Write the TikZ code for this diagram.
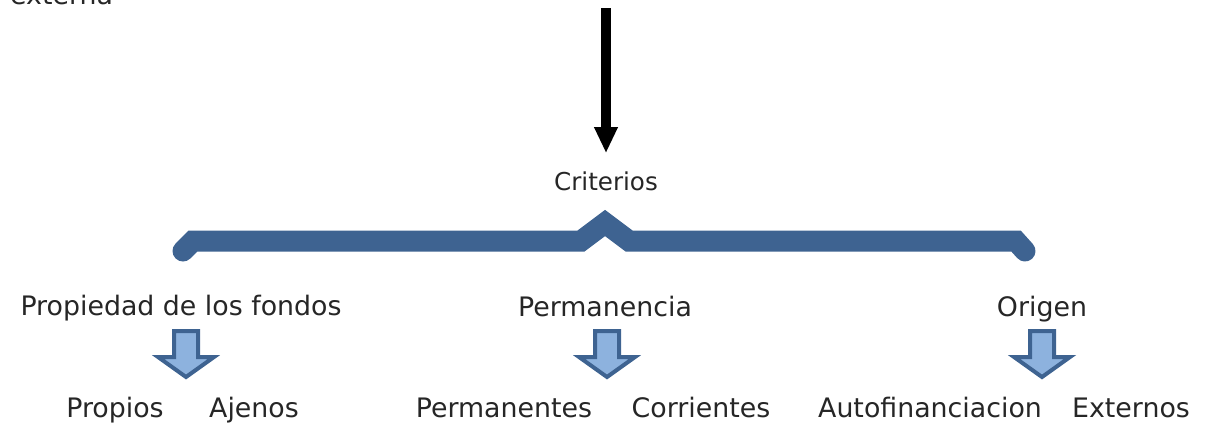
\documentclass[tikz,border=0pt]{standalone}
\usepackage{fontspec}
\setmainfont{DejaVu Sans}
\usetikzlibrary{arrows.meta,positioning,calc}
\definecolor{brc}{RGB}{62,99,145}
\definecolor{brclight}{RGB}{141,178,222}
\tikzset{
  lbl/.style={anchor=base, inner sep=0pt, text=black!85, font=\fontsize{26.8}{32}\selectfont},
  blockdown/.pic={\draw[line width=4pt, brc, fill=brclight, line join=miter]
    (-12,2) -- (12,2) -- (12,28) -- (28,28) -- (0,48) -- (-28,28) -- (-12,28) -- cycle;}
}
\begin{document}
\begin{tikzpicture}[x=1pt, y=-1pt]
\useasboundingbox (0,0) rectangle (1211,426);
\clip (0,0) rectangle (1211,426);
\node[lbl, anchor=base west] (ext) at (10,4) {externa};
\coordinate (arrtop) at (606,8);
\node[lbl, font=\fontsize{24.6}{30}\selectfont] (crit) at (606,190) {Criterios};
\draw[line width=10pt, -{Triangle[length=26pt, width=22pt]}, shorten >=18pt]
  (arrtop) -- (crit.north);
\draw[brc, line width=21pt, line cap=round, line join=miter]
  (183,251) -- (193,241) -- (581,241) -- (605,223) -- (629,241)
  -- (1016,241) -- (1025,251);
\node[lbl] (prop) at (181,315) {Propiedad de los fondos};
\node[lbl] (perm) at (605,316) {Permanencia};
\node[lbl] (orig) at (1042,316) {Origen};
\pic at (186,329) {blockdown};
\pic at (607,329) {blockdown};
\pic at (1042,329) {blockdown};
\node[lbl] (propios) at (115,417) {Propios};
\node[lbl] (ajenos) at (254,417) {Ajenos};
\node[lbl] (permtes) at (504,417) {Permanentes};
\node[lbl] (corr) at (701,417) {Corrientes};
\node[lbl] (auto) at (930,417) {Autofinanciacion};
\node[lbl] (extern) at (1131,417) {Externos};
\end{tikzpicture}
\end{document}
